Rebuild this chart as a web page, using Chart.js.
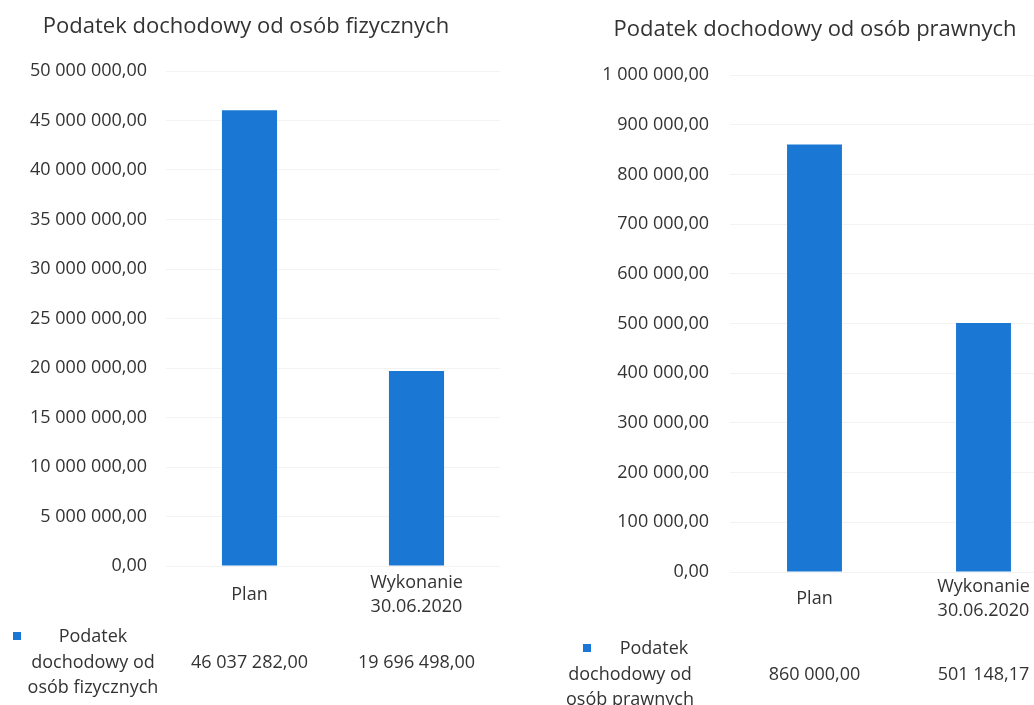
<!DOCTYPE html>
<html lang="pl">
<head>
<meta charset="utf-8">
<title>Podatek dochodowy</title>
<script src="https://cdn.jsdelivr.net/npm/chart.js@4"></script>
<style>
    html, body { margin: 0; padding: 0; background: #ffffff; }
    body { width: 1034px; height: 705px; overflow: hidden; position: relative; }
    .box { position: absolute; top: 0; height: 705px; }
    #boxLeft { left: -20px; width: 540px; }
    #boxRight { left: 540px; width: 538px; }
</style>
</head>
<body>
<div class="box" id="boxLeft"><canvas id="pitChart"></canvas></div>
<div class="box" id="boxRight"><canvas id="citChart"></canvas></div>
<script>
var categories = ["Plan", ["Wykonanie", "30.06.2020"]];

var pitTitle = "Podatek dochodowy od osób fizycznych";
var pitSeries = ["Podatek", "dochodowy od", "osób fizycznych"];
var pitValues = [46037282.00, 19696498.00];
var pitTicks = [0, 5000000, 10000000, 15000000, 20000000, 25000000, 30000000, 35000000, 40000000, 45000000, 50000000];

var citTitle = "Podatek dochodowy od osób prawnych";
var citSeries = ["Podatek", "dochodowy od", "osób prawnych"];
var citValues = [860000.00, 501148.17];
var citTicks = [0, 100000, 200000, 300000, 400000, 500000, 600000, 700000, 800000, 900000, 1000000];

var barColor = "#1a78d4";
var textColor = "#333333";
var fontFamily = "'Open Sans', sans-serif";

function formatPl(v) {
    var parts = v.toFixed(2).split(".");
    return parts[0].replace(/\B(?=(\d{3})+(?!\d))/g, " ") + "," + parts[1];
}

// draws the data table under the x axis (legend key, series name, values)
var tablePlugin = {
    id: "dataTable",
    afterDraw: function (chart, args, opts) {
        var ctx = chart.ctx;
        var xScale = chart.scales.x;
        var ds = chart.data.datasets[0];
        var rowTop = chart.chartArea.bottom + opts.rowOffset;
        ctx.save();
        ctx.fillStyle = ds.backgroundColor;
        ctx.fillRect(opts.markerX - 4, opts.markerY - 4, 8, 8);
        ctx.font = "18px " + fontFamily;
        ctx.fillStyle = textColor;
        ctx.textAlign = "center";
        ctx.textBaseline = "middle";
        opts.nameLines.forEach(function (line, i) {
            var x = opts.nameX + (i === 0 ? opts.firstLineShift : 0);
            ctx.fillText(line, x, rowTop + i * opts.lineHeight);
        });
        ds.data.forEach(function (v, i) {
            ctx.fillText(formatPl(v), xScale.getPixelForValue(i), rowTop + opts.lineHeight);
        });
        ctx.restore();
    }
};

function makeChart(id, cfg) {
    var ticks = cfg.ticks;
    return new Chart(document.getElementById(id), {
        type: "bar",
        data: {
            labels: categories,
            datasets: [{
                label: cfg.series.join(" "),
                data: cfg.values,
                backgroundColor: barColor,
                barPercentage: cfg.barPct,
                categoryPercentage: 1
            }]
        },
        plugins: [tablePlugin],
        options: {
            responsive: true,
            maintainAspectRatio: false,
            animation: false,
            layout: { padding: { left: cfg.padLeft, right: cfg.padRight, top: 0, bottom: 0 } },
            scales: {
                y: {
                    min: ticks[0],
                    max: ticks[ticks.length - 1],
                    afterBuildTicks: function (scale) {
                        scale.ticks = ticks.map(function (t) { return { value: t }; });
                    },
                    afterFit: function (scale) { scale.width = cfg.yWidth; },
                    border: { display: false },
                    grid: { color: "#f3f3f3", drawTicks: false },
                    ticks: {
                        padding: cfg.yPad,
                        color: textColor,
                        font: { family: fontFamily, size: 18 },
                        callback: function (v) { return formatPl(v); }
                    }
                },
                x: {
                    afterFit: function (scale) { scale.height = cfg.xHeight; },
                    border: { display: false },
                    grid: { display: false, drawTicks: false },
                    ticks: {
                        padding: cfg.xPad,
                        crossAlign: "center",
                        maxRotation: 0,
                        color: textColor,
                        font: { family: fontFamily, size: 18, lineHeight: 1.33 }
                    }
                }
            },
            plugins: {
                legend: { display: false },
                tooltip: { enabled: false },
                title: {
                    display: true,
                    text: cfg.title,
                    color: textColor,
                    font: { family: fontFamily, size: 22, weight: "normal" },
                    padding: { top: cfg.titleTop, bottom: cfg.titleBottom }
                },
                dataTable: {
                    rowOffset: cfg.rowOffset,
                    lineHeight: 25.5,
                    nameLines: cfg.series,
                    nameX: cfg.nameX,
                    firstLineShift: cfg.firstLineShift,
                    markerX: cfg.markerX,
                    markerY: cfg.markerY
                }
            }
        }
    });
}

document.addEventListener("DOMContentLoaded", function () {
    makeChart("pitChart", {
        title: pitTitle, series: pitSeries, values: pitValues, ticks: pitTicks,
        barPct: 0.33, padLeft: 12, padRight: 20, yWidth: 174, yPad: 19,
        xHeight: 139, xPad: 17, titleTop: 14, titleBottom: 30.6,
        rowOffset: 71, nameX: 113, firstLineShift: 0, markerX: 37, markerY: 636
    });
    makeChart("citChart", {
        title: citTitle, series: citSeries, values: citValues, ticks: citTicks,
        barPct: 0.325, padLeft: 22, padRight: 10, yWidth: 168, yPad: 21,
        xHeight: 133, xPad: 15, titleTop: 17, titleBottom: 31.6,
        rowOffset: 77, nameX: 90, firstLineShift: 24, markerX: 47, markerY: 648
    });
});
</script>
</body>
</html>
